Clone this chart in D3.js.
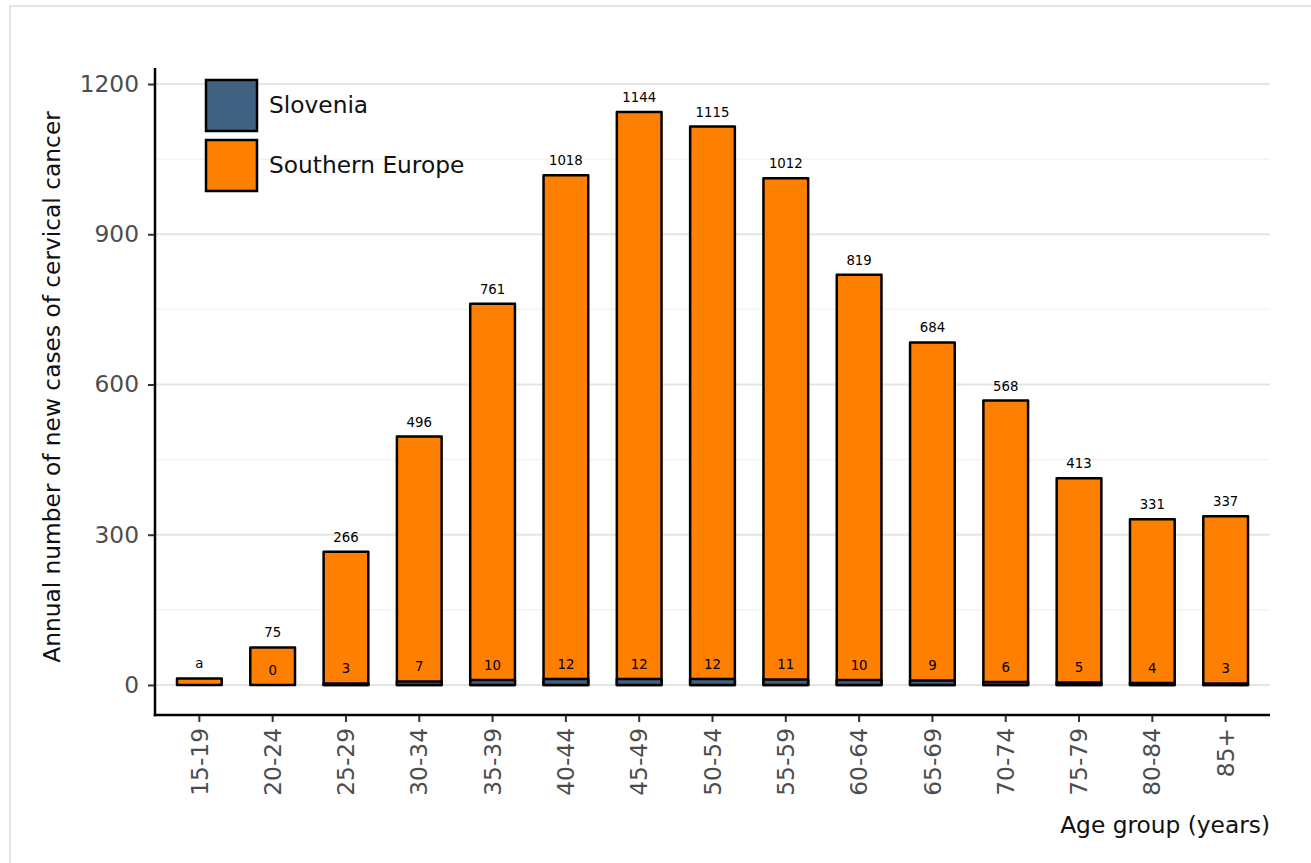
<!DOCTYPE html>
<html>
<head>
<meta charset="utf-8">
<script src="https://cdn.jsdelivr.net/npm/d3@7"></script>
<style>
  body { margin: 0; background: #fff; }
  svg text { font-family: "DejaVu Sans", sans-serif; }
  .grid-major { stroke: #e5e5e5; stroke-width: 2; }
  .grid-minor { stroke: #f3f3f3; stroke-width: 1.5; }
  svg text.tick-label { fill: #4d4d4d; font-size: 23.3px; }
  svg text.val { font-size: 13.3px; fill: #000; text-anchor: middle; }
</style>
</head>
<body>
<svg id="chart"></svg>
<script>
/**
 * DATA
 **/
const ageGroups = ["15-19", "20-24", "25-29", "30-34", "35-39", "40-44", "45-49", "50-54",
                   "55-59", "60-64", "65-69", "70-74", "75-79", "80-84", "85+"];
const southernEurope = [13, 75, 266, 496, 761, 1018, 1144, 1115, 1012, 819, 684, 568, 413, 331, 337];
const southernLabels = ["a", "75", "266", "496", "761", "1018", "1144", "1115", "1012", "819", "684", "568", "413", "331", "337"];
const slovenia = [0, 0, 3, 7, 10, 12, 12, 12, 11, 10, 9, 6, 5, 4, 3];
const sloveniaLabels = ["", "0", "3", "7", "10", "12", "12", "12", "11", "10", "9", "6", "5", "4", "3"];
const yTicks = [0, 300, 600, 900, 1200];
const yMinor = [150, 450, 750, 1050];
const seriesNames = ["Slovenia", "Southern Europe"];

/**
 * CONSTANTS
 **/
const width = 1311, height = 863,
  plot = { left: 155, right: 1270, top: 68, bottom: 715 },
  colors = { "Slovenia": "#406180", "Southern Europe": "#ff7f00" },
  titleSize = 23.3;

const svg = d3.select("#chart").attr("width", width).attr("height", height);

// outer frame of the figure
svg.append("rect")
  .attr("x", 10).attr("y", 6)
  .attr("width", width + 20).attr("height", height + 20)
  .attr("fill", "none").attr("stroke", "#dddddd").attr("stroke-width", 1.5);

// SCALES
const xScale = d3.scaleBand()
  .domain(ageGroups)
  .range([plot.left, plot.right])
  .paddingInner(0.39)
  .paddingOuter(0.3);

const yScale = d3.scaleLinear()
  .domain([-60, 1232])
  .range([plot.bottom, plot.top]);

// GRID
svg.append("g").selectAll("line")
  .data(yMinor)
  .join("line")
  .attr("class", "grid-minor")
  .attr("x1", plot.left).attr("x2", plot.right)
  .attr("y1", d => yScale(d)).attr("y2", d => yScale(d));

svg.append("g").selectAll("line")
  .data(yTicks)
  .join("line")
  .attr("class", "grid-major")
  .attr("x1", plot.left).attr("x2", plot.right)
  .attr("y1", d => yScale(d)).attr("y2", d => yScale(d));

// BARS - Southern Europe behind, Slovenia in front
const rows = ageGroups.map((g, i) => ({
  group: g, se: southernEurope[i], sl: slovenia[i],
  seLabel: southernLabels[i], slLabel: sloveniaLabels[i]
}));

const barStyle = sel => sel
  .attr("stroke", "#000")
  .attr("stroke-width", 2.5)
  .attr("stroke-linejoin", "round");

svg.append("g").selectAll("rect")
  .data(rows)
  .join("rect")
  .attr("x", d => xScale(d.group))
  .attr("width", xScale.bandwidth())
  .attr("y", d => yScale(d.se))
  .attr("height", d => yScale(0) - yScale(d.se))
  .attr("fill", colors["Southern Europe"])
  .call(barStyle);

svg.append("g").selectAll("rect")
  .data(rows)
  .join("rect")
  .attr("x", d => xScale(d.group))
  .attr("width", xScale.bandwidth())
  .attr("y", d => yScale(d.sl))
  .attr("height", d => yScale(0) - yScale(d.sl))
  .attr("fill", colors["Slovenia"])
  .call(barStyle);

// value labels
svg.append("g").selectAll("text")
  .data(rows)
  .join("text")
  .attr("class", "val")
  .attr("x", d => xScale(d.group) + xScale.bandwidth() / 2)
  .attr("y", d => yScale(d.se) - 10)
  .text(d => d.seLabel);

svg.append("g").selectAll("text")
  .data(rows)
  .join("text")
  .attr("class", "val")
  .attr("x", d => xScale(d.group) + xScale.bandwidth() / 2)
  .attr("y", d => yScale(d.sl) - 10)
  .text(d => d.slLabel);

// AXES
const yAxis = svg.append("g")
  .attr("transform", `translate(${plot.left},0)`)
  .call(d3.axisLeft(yScale).tickValues(yTicks).tickFormat(d3.format("d")).tickSize(7).tickPadding(9));
yAxis.select(".domain").remove();
yAxis.selectAll(".tick line").attr("stroke", "#333").attr("stroke-width", 2);
yAxis.selectAll(".tick text").attr("class", "tick-label").attr("font-family", null).attr("font-size", null);
yAxis.attr("font-family", null).attr("font-size", null);

const xAxis = svg.append("g")
  .attr("transform", `translate(0,${plot.bottom})`)
  .call(d3.axisBottom(xScale).tickSize(7));
xAxis.select(".domain").remove();
xAxis.attr("font-family", null).attr("font-size", null);
xAxis.selectAll(".tick line").attr("stroke", "#333").attr("stroke-width", 2);
xAxis.selectAll(".tick text")
  .attr("class", "tick-label")
  .attr("transform", "rotate(-90)")
  .attr("text-anchor", "end")
  .attr("x", -13).attr("y", 0).attr("dy", "0.35em");

// axis lines
svg.append("line")
  .attr("x1", plot.left).attr("x2", plot.left)
  .attr("y1", plot.top).attr("y2", plot.bottom + 1.25)
  .attr("stroke", "#000").attr("stroke-width", 2.5);
svg.append("line")
  .attr("x1", plot.left - 1.25).attr("x2", plot.right)
  .attr("y1", plot.bottom).attr("y2", plot.bottom)
  .attr("stroke", "#000").attr("stroke-width", 2.5);

// axis titles
svg.append("text")
  .attr("transform", `translate(60,${(112 + 662) / 2}) rotate(-90)`)
  .attr("text-anchor", "middle")
  .attr("font-size", titleSize)
  .attr("fill", "#111")
  .text("Annual number of new cases of cervical cancer");

svg.append("text")
  .attr("x", plot.right).attr("y", 833)
  .attr("text-anchor", "end")
  .attr("font-size", titleSize)
  .attr("fill", "#111")
  .text("Age group (years)");

// LEGEND
const legend = svg.append("g").attr("transform", "translate(206,80)");
const item = legend.selectAll("g")
  .data(seriesNames)
  .join("g")
  .attr("transform", (d, i) => `translate(0,${i * 60})`);
item.append("rect")
  .attr("width", 51).attr("height", 51)
  .attr("fill", d => colors[d])
  .attr("stroke", "#000").attr("stroke-width", 2.5);
item.append("text")
  .attr("x", 63).attr("y", 25).attr("dy", "0.35em")
  .attr("font-size", titleSize)
  .attr("fill", "#111")
  .text(d => d);
</script>
</body>
</html>
